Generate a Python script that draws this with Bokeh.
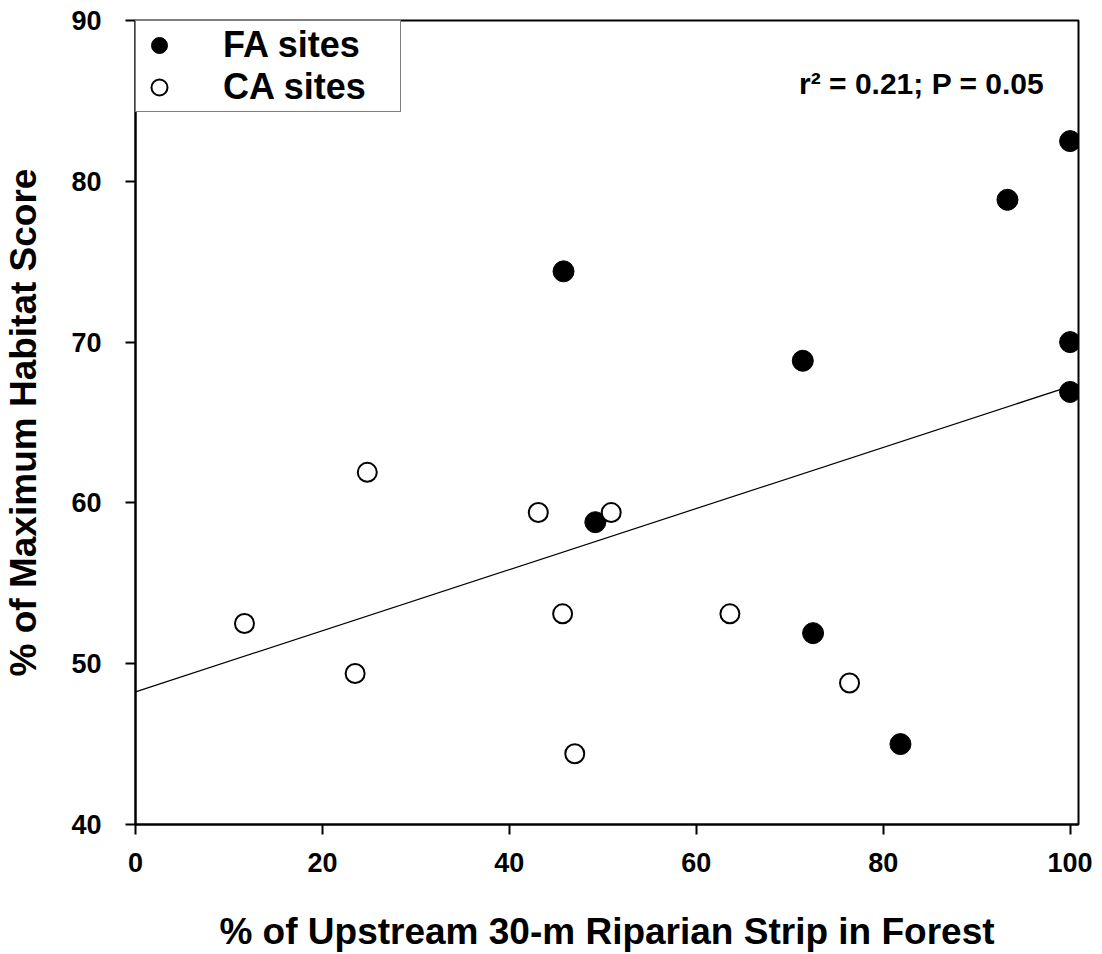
from bokeh.plotting import figure
from bokeh.models import Legend, LegendItem, Label, FixedTicker, Range1d
from bokeh.embed import file_html
from bokeh.resources import INLINE

# ---- data ----
fa_x = [100.0, 93.3, 45.8, 71.4, 100.0, 100.0, 49.2, 72.5, 81.85]
fa_y = [82.5, 78.85, 74.4, 68.84, 70.0, 66.9, 58.8, 51.9, 45.0]

ca_x = [24.8, 43.1, 50.9, 11.66, 45.7, 63.6, 23.5, 76.4, 47.0]
ca_y = [61.9, 59.4, 59.4, 52.5, 53.1, 53.1, 49.39, 48.8, 44.4]

fit_intercept = 48.25
fit_slope = 0.19
fit_x = [0, 100]
fit_y = [fit_intercept + fit_slope * v for v in fit_x]

x_ticks = [0, 20, 40, 60, 80, 100]
y_ticks = [40, 50, 60, 70, 80, 90]

FONT = "Liberation Sans"

p = figure(width=1102, height=954, output_backend="svg", toolbar_location=None,
           x_range=Range1d(0, 100.9), y_range=Range1d(40, 90),
           min_border_left=134, min_border_right=24, min_border_top=20,
           min_border_bottom=130)

p.background_fill_color = "white"
p.border_fill_color = "white"
p.xgrid.grid_line_color = None
p.ygrid.grid_line_color = None
p.outline_line_color = "black"
p.outline_line_width = 2

for ax in (p.xaxis[0], p.yaxis[0]):
    ax.axis_line_width = 2
    ax.axis_line_color = "black"
    ax.major_tick_line_width = 2
    ax.major_tick_in = 0
    ax.major_tick_out = 10
    ax.minor_tick_line_color = None
    ax.major_label_text_font = FONT
    ax.major_label_text_font_style = "bold"
    ax.major_label_text_font_size = "27px"
    ax.major_label_text_color = "black"
    ax.axis_label_text_font = FONT
    ax.axis_label_text_font_style = "bold"
    ax.axis_label_text_font_size = "37px"
    ax.axis_label_text_color = "black"

p.xaxis.ticker = FixedTicker(ticks=x_ticks)
p.yaxis.ticker = FixedTicker(ticks=y_ticks)
p.xaxis.axis_label = "% of Upstream 30-m Riparian Strip in Forest"
p.yaxis.axis_label = "% of Maximum Habitat Score"
p.xaxis.major_label_standoff = 18
p.yaxis.major_label_standoff = 24
p.xaxis.axis_label_standoff = 36
p.yaxis.axis_label_standoff = 24

p.line(fit_x, fit_y, line_color="black", line_width=1.2)

r_fa = p.scatter(fa_x, fa_y, size=21, marker="circle", fill_color="black",
                 line_color="black", line_width=1)
r_ca = p.scatter(ca_x, ca_y, size=19, marker="circle", fill_color="white",
                 line_color="black", line_width=2)

legend = Legend(items=[LegendItem(label="FA sites", renderers=[r_fa]),
                       LegendItem(label="CA sites", renderers=[r_ca])],
                location="top_left", margin=0, padding=3, spacing=0,
                glyph_width=40, glyph_height=40, label_height=40,
                label_standoff=44, label_width=174,
                label_text_font=FONT, label_text_font_style="bold",
                label_text_font_size="36px", label_text_color="black",
                border_line_color="black", border_line_width=1.5,
                background_fill_color="white", background_fill_alpha=1.0)
p.add_layout(legend)

p.add_layout(Label(x=71.0, y=86.1, text="r² = 0.21; P = 0.05",
                   text_font=FONT, text_font_style="bold",
                   text_font_size="30px", text_color="black",
                   text_align="left", text_baseline="alphabetic"))

open("out.html", "w").write(file_html(p, INLINE))
